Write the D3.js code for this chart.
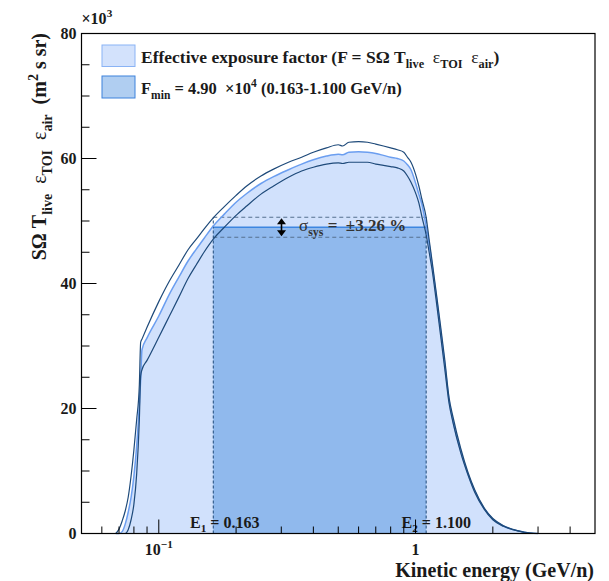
<!DOCTYPE html>
<html><head><meta charset="utf-8">
<script src="https://cdn.jsdelivr.net/npm/d3@7"></script>
<style>body{margin:0;background:#fff}svg{display:block}svg text{white-space:pre}</style>
</head><body>
<svg id="chart" width="609" height="581"></svg>
<script>
// Kinetic energy grid (GeV/n)
const energy = [0.068,0.070,0.072,0.074,0.076,0.078,0.080,0.082,0.084,0.085,
  0.086,0.09,0.10,0.11,0.12,0.13,0.14,0.15,0.163,0.18,
  0.20,0.22,0.25,0.28,0.32,0.36,0.40,0.45,0.50,0.52,
  0.55,0.60,0.65,0.70,0.75,0.80,0.85,0.90,0.93,0.96,
  1.00,1.03,1.06,1.10,1.13,1.16,1.20,1.25,1.30,1.35,
  1.40,1.50,1.60,1.70,1.85,2.00,2.20,2.50,2.80,3.00];
// Exposure factor, units of 10^3 m^2 s sr
const central = [0,0,0.3,1.5,3.4,5.8,9.2,14.0,20.6,24.6,
  29.4,31.3,34.8,38.3,41.1,43.6,45.5,47.2,49.2,51.1,
  53.0,54.4,56.0,57.1,58.2,59.1,59.8,60.4,60.7,60.6,
  61.0,61.1,61.0,60.8,60.5,60.2,60.0,59.6,59.0,58.2,
  56.1,54.3,52.6,49.2,46.3,43.0,38.5,32.7,27.1,21.4,
  18.0,13.2,9.5,6.8,4.0,2.3,1.2,0.43,0.06,0];
const upper = [0,0.7,2.0,3.6,5.8,9.2,13.4,18.2,23.8,30.6,
  31.1,33.0,37.1,40.4,43.0,45.4,47.1,48.7,50.5,52.3,
  54.1,55.6,57.2,58.3,59.4,60.2,61.0,61.7,62.2,62.0,
  62.6,62.7,62.6,62.3,62.0,61.7,61.4,61.0,60.2,59.4,
  57.5,55.6,53.4,50.6,47.0,43.6,39.0,33.4,27.8,21.8,
  18.6,13.6,9.8,7.0,4.1,2.4,1.25,0.46,0.08,0];
const lower = [0,0,0,0,0.6,2.2,4.7,9.5,18.2,25.2,
  26.2,27.7,31.4,34.8,37.9,40.8,43.0,45.0,47.1,49.0,
  50.9,52.4,54.3,55.6,57.0,58.0,58.6,59.1,59.3,59.2,
  59.4,59.4,59.4,59.1,58.9,58.7,58.5,58.0,57.2,56.2,
  54.5,52.9,50.6,47.8,45.0,42.2,37.7,31.9,26.3,20.9,
  17.7,12.9,9.4,6.6,3.9,2.2,1.15,0.4,0.05,0];

const E1 = 0.163, E2 = 1.100;
const Fmin = 49.0;          // x10^3
const sigmaSys = 3.26;      // percent
const yMajor = [0,20,40,60,80];
const yMinor = [5,10,15,25,30,35,45,50,55,65,70,75];
const xMajor = [0.1,1];
const xMinor = [0.06,0.07,0.08,0.09,0.2,0.3,0.4,0.5,0.6,0.7,0.8,0.9,2,3,4];

const svg = d3.select("#chart");
const x = d3.scaleLog().domain([0.05,5]).range([81.5,595]);
const y = d3.scaleLinear().domain([0,80]).range([533.5,33.5]);

const SERIF = "'Liberation Serif','Times New Roman',serif";
const C = {
  fill:"#d1e1fc", central:"#6b9ef0", band:"#1e4a7a",
  rect:"#90b9ed", fminLine:"#3d86e0", sysDash:"#56708f", text:"#1a1a1a"
};

// text with sub/superscripts
function rich(sel, parts, size){
  let cur = 0;
  parts.forEach(p=>{
    let shift = 0, fs = size;
    if(p.sub){ shift = size*0.28; fs = size*0.7; }
    if(p.sup){ shift = -size*0.42; fs = size*0.7; }
    const ts = sel.append("tspan").text(p.t)
      .attr("dy", shift-cur).attr("font-size", fs);
    if(p.normal) ts.attr("font-weight","normal");
    cur = shift;
  });
  return sel;
}

const pts = arr => energy.map((e,i)=>[e,arr[i]]);
const line = d3.line().x(d=>x(d[0])).y(d=>y(d[1])).curve(d3.curveMonotoneX);
const area = d3.area().x(d=>x(d[0])).y0(y(0)).y1(d=>y(d[1])).curve(d3.curveMonotoneX);

// light fill under the central exposure
svg.append("path").datum(pts(central)).attr("d", area).attr("fill", C.fill);

// F_min box between E1 and E2
svg.append("rect").attr("x", x(E1)).attr("y", y(Fmin))
  .attr("width", x(E2)-x(E1)).attr("height", y(0)-y(Fmin)).attr("fill", C.rect);

// +-sigma dashed lines
[1+sigmaSys/100, 1-sigmaSys/100].forEach(f=>{
  svg.append("line").attr("x1",x(E1)).attr("x2",x(E2))
    .attr("y1",y(Fmin*f)).attr("y2",y(Fmin*f))
    .attr("stroke",C.sysDash).attr("stroke-width",1.2).attr("stroke-dasharray","4,3");
});
svg.append("line").attr("x1",x(E1)).attr("x2",x(E2))
  .attr("y1",y(Fmin)).attr("y2",y(Fmin))
  .attr("stroke",C.fminLine).attr("stroke-width",1.6);

// energy bounds
[E1,E2].forEach(e=>{
  svg.append("line").attr("x1",x(e)).attr("x2",x(e))
    .attr("y1",y(0)).attr("y2",y(Fmin*(1+sigmaSys/100)))
    .attr("stroke",C.band).attr("stroke-width",1).attr("stroke-dasharray","3,2");
});

// curves
svg.append("path").datum(pts(central)).attr("d", line)
  .attr("fill","none").attr("stroke",C.central).attr("stroke-width",1.5);
[upper, lower].forEach(arr=>{
  svg.append("path").datum(pts(arr)).attr("d", line)
    .attr("fill","none").attr("stroke",C.band).attr("stroke-width",1.2);
});

// double arrow for sigma_sys
const ax = 281.5, ya = y(Fmin*(1+sigmaSys/100))+1, yb = y(Fmin*(1-sigmaSys/100))-1;
svg.append("line").attr("x1",ax).attr("x2",ax).attr("y1",ya+4).attr("y2",yb-4)
  .attr("stroke","#000").attr("stroke-width",1.6);
svg.append("path").attr("d",`M${ax},${ya} l-4.5,6 h9 z M${ax},${yb} l-4.5,-6 h9 z`).attr("fill","#000");

rich(svg.append("text").attr("x",299).attr("y",231).attr("font-family",SERIF)
  .attr("font-weight","bold").attr("fill","#333"),
  [{t:"σ",normal:true},{t:"sys",sub:true},{t:" =  ±3.26 %"}],17);

// E labels
rich(svg.append("text").attr("x",190).attr("y",528).attr("font-family",SERIF)
  .attr("font-weight","bold").attr("fill",C.text),
  [{t:"E"},{t:"1",sub:true},{t:" = 0.163"}],16);
rich(svg.append("text").attr("x",401.5).attr("y",528).attr("font-family",SERIF)
  .attr("font-weight","bold").attr("fill",C.text),
  [{t:"E"},{t:"2",sub:true},{t:" = 1.100"}],16);

// frame
svg.append("rect").attr("x",x(0.05)).attr("y",y(80))
  .attr("width",x(5)-x(0.05)).attr("height",y(0)-y(80))
  .attr("fill","none").attr("stroke","#000").attr("stroke-width",1.2);

// ticks
const tk = svg.append("g").attr("stroke","#000").attr("stroke-width",1);
yMajor.forEach(v=>tk.append("line").attr("x1",x(0.05)).attr("x2",x(0.05)+15).attr("y1",y(v)).attr("y2",y(v)));
yMinor.forEach(v=>tk.append("line").attr("x1",x(0.05)).attr("x2",x(0.05)+8).attr("y1",y(v)).attr("y2",y(v)));
xMajor.forEach(v=>tk.append("line").attr("x1",x(v)).attr("x2",x(v)).attr("y1",y(0)).attr("y2",y(0)-14));
xMinor.forEach(v=>tk.append("line").attr("x1",x(v)).attr("x2",x(v)).attr("y1",y(0)).attr("y2",y(0)-7));

// tick labels
yMajor.forEach(v=>svg.append("text").attr("x",x(0.05)-5).attr("y",y(v)+5.5)
  .attr("text-anchor","end").attr("font-family",SERIF).attr("font-weight","bold")
  .attr("font-size",16).attr("fill",C.text).text(v));
rich(svg.append("text").attr("x",x(0.05)).attr("y",24).attr("font-family",SERIF)
  .attr("font-weight","bold").attr("fill",C.text),[{t:"×10"},{t:"3",sup:true}],16);
rich(svg.append("text").attr("x",x(0.1)).attr("y",555).attr("text-anchor","middle")
  .attr("font-family",SERIF).attr("font-weight","bold").attr("fill",C.text),
  [{t:"10"},{t:"−1",sup:true}],16);
svg.append("text").attr("x",x(1)).attr("y",554.5).attr("text-anchor","middle")
  .attr("font-family",SERIF).attr("font-weight","bold").attr("font-size",16)
  .attr("fill",C.text).text("1");

// axis titles
svg.append("text").attr("x",594).attr("y",577).attr("text-anchor","end")
  .attr("font-family",SERIF).attr("font-weight","bold").attr("font-size",20)
  .attr("fill",C.text).text("Kinetic energy (GeV/n)");
rich(svg.append("text").attr("transform","translate(46,33) rotate(-90)")
  .attr("text-anchor","end").attr("font-family",SERIF).attr("font-weight","bold")
  .attr("fill",C.text),
  [{t:"SΩ T"},{t:"live",sub:true},{t:"  ε",normal:true},{t:"TOI",sub:true},
   {t:"  ε",normal:true},{t:"air",sub:true},{t:"  (m"},{t:"2",sup:true},{t:" s sr)"}],20);

// legend
const lg = svg.append("g");
lg.append("rect").attr("x",102).attr("y",45).attr("width",33).attr("height",21.5)
  .attr("fill","#d3e2fc").attr("stroke","#8ab3f5").attr("stroke-width",1);
lg.append("rect").attr("x",102).attr("y",76).attr("width",33).attr("height",22)
  .attr("fill","#b0cef1").attr("stroke","#3d82dc").attr("stroke-width",1);
rich(lg.append("text").attr("x",141).attr("y",63).attr("font-family",SERIF)
  .attr("font-weight","bold").attr("fill",C.text),
  [{t:"Effective exposure factor (F = SΩ T"},{t:"live",sub:true},{t:"  ε",normal:true},
   {t:"TOI",sub:true},{t:"  ε",normal:true},{t:"air",sub:true},{t:")"}],17.5);
rich(lg.append("text").attr("x",141).attr("y",94).attr("font-family",SERIF)
  .attr("font-weight","bold").attr("fill",C.text),
  [{t:"F"},{t:"min",sub:true},{t:" = 4.90  ×10"},{t:"4",sup:true},{t:" (0.163-1.100 GeV/n)"}],16.5);
</script>
</body></html>
